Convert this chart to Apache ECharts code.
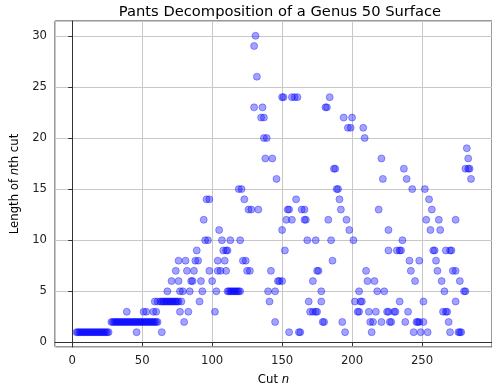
<!DOCTYPE html>
<html>
<head>
<meta charset="utf-8">
<script src="https://cdn.jsdelivr.net/npm/echarts@6/dist/echarts.min.js"></script>
<style>
  html, body { margin: 0; padding: 0; background: #fff; }
  #chart { width: 492px; height: 392px; }
</style>
</head>
<body>
<div id="chart"></div>
<script>
// cut lengths and the cut numbers n that have each length
const cutLengths = [1, 2, 3, 4, 5, 6, 7, 8, 9, 10, 11, 12, 13, 14, 15, 16, 17, 18, 19, 20, 21, 22, 23, 24, 26, 29, 30];
const cutsByLength = [
  [3, 4, 5, 6, 7, 8, 9, 10, 11, 12, 13, 14, 15, 16, 17, 18, 19, 20, 21, 22, 23, 24, 25, 26, 46, 64, 155, 162, 163, 195, 214, 244, 249, 254, 270, 276, 277, 278],
  [28, 29, 30, 31, 32, 33, 34, 35, 36, 37, 38, 39, 40, 41, 42, 43, 44, 45, 46, 47, 48, 49, 50, 51, 52, 53, 54, 55, 56, 57, 58, 59, 60, 61, 80, 145, 179, 180, 193, 213, 215, 221, 227, 228, 238, 246, 247, 248, 251, 269],
  [39, 51, 53, 58, 60, 77, 83, 102, 170, 172, 174, 175, 204, 205, 212, 217, 225, 226, 230, 231, 240, 265, 267, 268],
  [59, 61, 63, 64, 65, 66, 67, 68, 69, 70, 71, 72, 73, 74, 75, 76, 78, 91, 141, 169, 178, 202, 206, 207, 234, 251, 274],
  [68, 77, 79, 84, 93, 103, 111, 112, 113, 114, 115, 116, 117, 118, 119, 120, 140, 145, 178, 205, 218, 223, 266, 280, 281],
  [71, 76, 85, 86, 92, 100, 147, 148, 150, 172, 211, 216, 245, 264, 277],
  [74, 82, 87, 98, 104, 106, 110, 125, 127, 142, 175, 176, 210, 242, 261, 272, 274],
  [76, 81, 88, 90, 104, 109, 122, 124, 186, 241, 248, 260],
  [89, 108, 110, 111, 152, 226, 232, 234, 235, 258, 259, 267, 270, 271],
  [95, 97, 107, 113, 120, 168, 174, 185, 201, 236],
  [105, 150, 198, 226, 256, 263],
  [94, 153, 157, 166, 167, 183, 196, 253, 262, 274],
  [126, 128, 133, 154, 155, 164, 166, 192, 219, 257],
  [96, 98, 123, 160, 191, 255],
  [119, 121, 189, 190, 243, 252],
  [146, 222, 239, 285],
  [187, 188, 237, 281, 283, 284],
  [138, 143, 221, 283],
  [282],
  [137, 139, 209],
  [197, 199, 208],
  [135, 137, 194, 200],
  [130, 136, 181, 182],
  [150, 151, 157, 159, 161, 184],
  [132],
  [130],
  [131]
];

const points = [];
cutLengths.forEach((len, i) => {
  cutsByLength[i].forEach((n) => points.push([n, len]));
});

const font = "DejaVu Sans";
const ink = "#222";

const chart = echarts.init(document.getElementById("chart"), null, { renderer: "canvas" });
chart.setOption({
  animation: false,
  title: {
    text: "Pants Decomposition of a Genus 50 Surface",
    left: 275,
    top: 0,
    textAlign: "center",
    textStyle: { fontFamily: font, fontSize: 14.7, fontWeight: "normal", color: "#000" }
  },
  grid: {
    left: 55,
    top: 21,
    width: 441,
    height: 326,
    show: true,
    borderColor: "#333",
    borderWidth: 1
  },
  xAxis: {
    type: "value",
    min: -12.3,
    max: 300,
    splitNumber: 5,
    name: "{a|Cut }{i|n}",
    nameLocation: "middle",
    nameGap: 27,
    nameTextStyle: {
      fontFamily: font,
      fontSize: 11.7,
      color: "#000",
      rich: {
        a: { fontFamily: font, fontSize: 11.7, color: "#000" },
        i: { fontFamily: font, fontSize: 11.7, color: "#000", fontStyle: "italic" }
      }
    },
    axisLine: { show: true, lineStyle: { color: "#333", width: 1 } },
    axisTick: { show: true, length: 4, lineStyle: { color: "#333" } },
    axisLabel: {
      fontFamily: font,
      fontSize: 11.7,
      color: ink,
      margin: 8,
      showMinLabel: false,
      showMaxLabel: false
    },
    splitLine: { show: true, lineStyle: { color: "#c8c8c8", width: 1 } }
  },
  yAxis: {
    type: "value",
    min: -0.45,
    max: 31.45,
    splitNumber: 6,
    name: "{a|Length of }{i|n}{a|th cut}",
    nameLocation: "middle",
    nameGap: 27,
    nameTextStyle: {
      fontFamily: font,
      fontSize: 11.7,
      color: "#000",
      rich: {
        a: { fontFamily: font, fontSize: 11.7, color: "#000" },
        i: { fontFamily: font, fontSize: 11.7, color: "#000", fontStyle: "italic" }
      }
    },
    axisLine: { show: true, lineStyle: { color: "#333", width: 1 } },
    axisTick: { show: true, length: 4, lineStyle: { color: "#333" } },
    axisLabel: {
      fontFamily: font,
      fontSize: 11.7,
      color: ink,
      margin: 8,
      showMinLabel: false,
      showMaxLabel: false
    },
    splitLine: { show: true, lineStyle: { color: "#c8c8c8", width: 1 } }
  },
  series: [
    {
      type: "scatter",
      symbol: "circle",
      symbolSize: 7,
      itemStyle: {
        color: "rgba(0, 0, 255, 0.45)",
        borderColor: "rgba(0, 0, 255, 0.45)",
        borderWidth: 1
      },
      data: points
    }
  ]
});
</script>
</body>
</html>
